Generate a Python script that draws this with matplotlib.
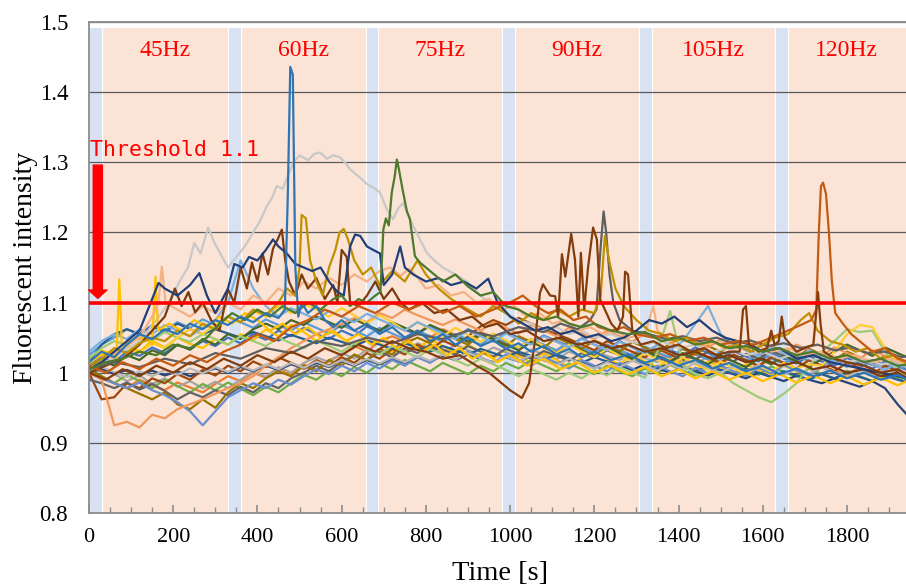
import matplotlib
matplotlib.use("Agg")
import matplotlib.pyplot as plt
from matplotlib.ticker import MultipleLocator

# ---- data -----------------------------------------------------------------
t_grid = list(range(0, 1951, 30))          # sampling of the bulk traces [s]

trace_01 = [1.010, 1.022, 1.015, 1.030, 1.024, 1.036, 1.028, 1.040, 1.033, 1.045,
            1.038, 1.050, 1.042, 1.055, 1.047, 1.060, 1.052, 1.064, 1.055, 1.048,
            1.060, 1.052, 1.066, 1.058, 1.070, 1.061, 1.055, 1.067, 1.058, 1.050,
            1.062, 1.054, 1.046, 1.058, 1.050, 1.042, 1.053, 1.045, 1.038, 1.049,
            1.040, 1.033, 1.045, 1.036, 1.028, 1.040, 1.032, 1.025, 1.036, 1.028,
            1.020, 1.031, 1.023, 1.016, 1.028, 1.020, 1.013, 1.024, 1.016, 1.010,
            1.021, 1.013, 1.006, 1.016, 1.009, 1.002]
trace_02 = [1.000, 0.992, 0.985, 0.978, 0.990, 0.982, 0.975, 0.986, 0.979, 0.972,
            0.984, 0.995, 0.988, 1.000, 0.993, 1.006, 0.998, 1.012, 1.004, 1.018,
            1.025, 1.038, 1.030, 1.045, 1.052, 1.044, 1.058, 1.050, 1.062, 1.054,
            1.046, 1.058, 1.050, 1.042, 1.036, 1.047, 1.039, 1.031, 1.043, 1.035,
            1.028, 1.040, 1.032, 1.024, 1.036, 1.028, 1.021, 1.015, 1.027, 1.019,
            1.012, 1.024, 1.016, 1.009, 1.020, 1.013, 1.006, 1.018, 1.010, 1.003,
            0.996, 1.008, 1.000, 0.993, 1.004, 0.997]
trace_03 = [0.995, 1.005, 0.998, 0.988, 0.996, 0.984, 0.992, 0.980, 0.988, 0.978,
            0.987, 0.978, 0.990, 1.002, 0.994, 1.008, 1.000, 1.014, 1.022, 1.015,
            1.028, 1.020, 1.033, 1.026, 1.038, 1.030, 1.042, 1.035, 1.028, 1.040,
            1.032, 1.025, 1.036, 1.029, 1.022, 1.033, 1.026, 1.019, 1.030, 1.023,
            1.030, 1.024, 1.018, 1.028, 1.021, 1.015, 1.026, 1.019, 1.012, 1.023,
            1.016, 1.025, 1.018, 1.028, 1.021, 1.014, 1.024, 1.017, 1.010, 1.020,
            1.013, 1.022, 1.015, 1.008, 1.016, 1.009]
trace_04 = [1.020, 1.032, 1.025, 1.040, 1.030, 1.046, 1.036, 1.050, 1.041, 1.035,
            1.048, 1.040, 1.055, 1.046, 1.062, 1.052, 1.068, 1.058, 1.045, 1.060,
            1.050, 1.038, 1.052, 1.042, 1.030, 1.044, 1.034, 1.048, 1.038, 1.028,
            1.040, 1.030, 1.020, 1.034, 1.024, 1.014, 1.028, 1.018, 1.008, 1.022,
            1.030, 1.020, 1.012, 1.026, 1.016, 1.008, 1.020, 1.011, 1.004, 1.016,
            1.008, 1.000, 1.012, 1.004, 0.998, 1.010, 1.002, 0.996, 1.008, 1.000,
            0.994, 1.006, 0.998, 0.992, 1.002, 0.995]
trace_05 = [1.025, 1.040, 1.050, 1.062, 1.055, 1.068, 1.060, 1.072, 1.064, 1.076,
            1.068, 1.080, 1.072, 1.064, 1.076, 1.068, 1.060, 1.072, 1.064, 1.056,
            1.068, 1.060, 1.052, 1.064, 1.056, 1.048, 1.060, 1.052, 1.044, 1.055,
            1.047, 1.040, 1.052, 1.044, 1.036, 1.048, 1.040, 1.032, 1.044, 1.036,
            1.028, 1.040, 1.032, 1.025, 1.037, 1.029, 1.022, 1.034, 1.026, 1.019,
            1.030, 1.023, 1.016, 1.027, 1.020, 1.013, 1.024, 1.017, 1.010, 1.021,
            1.014, 1.007, 1.018, 1.011, 1.004, 1.012]
trace_06 = [1.005, 0.995, 0.985, 0.997, 0.988, 0.978, 0.990, 0.981, 0.972, 0.984,
            0.975, 0.986, 0.977, 0.968, 0.980, 0.972, 0.985, 0.997, 0.990, 1.003,
            0.995, 1.008, 1.000, 1.013, 1.005, 1.018, 1.010, 1.002, 1.014, 1.006,
            0.998, 1.010, 1.002, 1.014, 1.006, 1.018, 1.010, 1.002, 1.013, 1.005,
            0.998, 1.010, 1.002, 0.995, 1.006, 0.999, 1.011, 1.003, 0.996, 1.008,
            1.000, 1.012, 1.004, 0.997, 1.009, 1.001, 0.994, 1.006, 0.998, 0.991,
            1.003, 0.995, 0.988, 1.000, 0.992, 0.985]
trace_07 = [1.000, 1.006, 0.998, 1.004, 0.997, 1.003, 0.996, 1.002, 0.995, 1.001,
            1.006, 1.000, 1.008, 1.002, 1.010, 1.004, 1.012, 1.006, 1.014, 1.008,
            1.016, 1.010, 1.018, 1.012, 1.020, 1.014, 1.022, 1.016, 1.024, 1.018,
            1.026, 1.020, 1.015, 1.022, 1.016, 1.024, 1.018, 1.012, 1.020, 1.014,
            1.008, 1.016, 1.010, 1.004, 1.012, 1.006, 1.000, 1.008, 1.002, 0.996,
            1.004, 0.998, 0.992, 1.000, 0.994, 0.988, 0.996, 0.990, 0.985, 0.992,
            0.986, 0.980, 0.988, 0.978, 0.955, 0.935]
trace_08 = [1.000, 0.962, 0.965, 0.985, 0.978, 0.992, 0.985, 0.998, 0.990, 1.004,
            0.996, 1.010, 1.002, 1.016, 1.008, 1.022, 1.014, 1.006, 1.018, 1.010,
            1.022, 1.014, 1.028, 1.020, 1.034, 1.026, 1.040, 1.032, 1.046, 1.038,
            1.052, 1.066, 1.075, 1.068, 1.078, 1.070, 1.062, 1.055, 1.048, 1.040,
            1.032, 1.045, 1.037, 1.030, 1.022, 1.034, 1.026, 1.018, 1.030, 1.022,
            1.014, 1.026, 1.018, 1.010, 1.022, 1.014, 1.006, 1.018, 1.010, 1.002,
            1.014, 1.006, 0.998, 1.010, 1.002, 0.995]
trace_09 = [0.990, 0.985, 0.978, 0.986, 0.976, 0.984, 0.974, 0.962, 0.972, 0.965,
            0.975, 0.968, 0.980, 0.972, 0.985, 0.978, 0.992, 1.000, 1.010, 1.002,
            1.015, 1.025, 1.018, 1.030, 1.022, 1.035, 1.028, 1.040, 1.033, 1.026,
            1.038, 1.030, 1.023, 1.034, 1.027, 1.020, 1.031, 1.024, 1.017, 1.028,
            1.021, 1.032, 1.025, 1.018, 1.029, 1.022, 1.015, 1.026, 1.019, 1.030,
            1.023, 1.016, 1.027, 1.020, 1.031, 1.024, 1.017, 1.028, 1.021, 1.014,
            1.025, 1.018, 1.011, 1.022, 1.015, 1.008]
trace_10 = [1.005, 0.995, 0.985, 0.978, 0.970, 0.962, 0.972, 0.955, 0.948, 0.962,
            0.950, 0.972, 0.985, 0.978, 0.992, 1.002, 0.995, 1.010, 1.002, 1.018,
            1.010, 1.026, 1.018, 1.034, 1.026, 1.042, 1.050, 1.042, 1.056, 1.048,
            1.040, 1.054, 1.046, 1.038, 1.052, 1.044, 1.036, 1.050, 1.042, 1.034,
            1.046, 1.038, 1.030, 1.044, 1.036, 1.028, 1.042, 1.034, 1.026, 1.038,
            1.030, 1.042, 1.034, 1.026, 1.038, 1.030, 1.022, 1.034, 1.026, 1.018,
            1.030, 1.022, 1.014, 1.024, 1.016, 1.010]
trace_11 = [1.015, 1.040, 1.055, 1.062, 1.055, 1.066, 1.058, 1.070, 1.062, 1.055,
            1.062, 1.056, 1.050, 1.058, 1.052, 1.046, 1.054, 1.048, 1.042, 1.050,
            1.044, 1.038, 1.046, 1.040, 1.034, 1.042, 1.036, 1.030, 1.038, 1.032,
            1.026, 1.034, 1.028, 1.022, 1.030, 1.024, 1.018, 1.026, 1.020, 1.014,
            1.022, 1.016, 1.010, 1.018, 1.012, 1.006, 1.014, 1.008, 1.002, 1.010,
            1.004, 0.998, 1.006, 1.000, 0.994, 1.002, 0.996, 0.990, 0.998, 0.992,
            1.000, 0.994, 0.988, 0.996, 0.990, 0.985]
trace_12 = [1.010, 1.018, 1.010, 1.025, 1.018, 1.032, 1.025, 1.040, 1.033, 1.048,
            1.040, 1.055, 1.048, 1.062, 1.070, 1.062, 1.075, 1.068, 1.080, 1.072,
            1.064, 1.076, 1.068, 1.060, 1.072, 1.064, 1.056, 1.068, 1.060, 1.052,
            1.044, 1.056, 1.048, 1.040, 1.032, 1.044, 1.036, 1.028, 1.040, 1.032,
            1.024, 1.036, 1.028, 1.020, 1.032, 1.024, 1.016, 1.028, 1.020, 1.012,
            1.024, 1.016, 1.008, 1.020, 1.012, 1.024, 1.016, 1.008, 1.020, 1.030,
            1.040, 1.032, 1.024, 1.036, 1.028, 1.020]
trace_13 = [1.000, 0.992, 0.985, 0.978, 0.986, 0.975, 0.968, 0.958, 0.945, 0.925,
            0.945, 0.965, 0.975, 0.985, 0.978, 0.990, 0.983, 0.995, 1.005, 0.998,
            1.010, 1.002, 1.014, 1.006, 1.018, 1.010, 1.022, 1.014, 1.026, 1.018,
            1.030, 1.022, 1.014, 1.026, 1.018, 1.010, 1.022, 1.014, 1.006, 1.018,
            1.010, 1.002, 1.014, 1.006, 0.998, 1.010, 1.002, 0.995, 1.007, 0.999,
            1.010, 1.002, 0.995, 1.007, 0.999, 1.011, 1.003, 0.996, 1.008, 1.000,
            0.993, 1.005, 0.997, 0.990, 1.000, 0.993]
trace_14 = [1.000, 0.990, 0.925, 0.930, 0.922, 0.940, 0.935, 0.948, 0.955, 0.962,
            0.970, 0.978, 0.985, 0.995, 1.010, 1.022, 1.035, 1.045, 1.055, 1.062,
            1.070, 1.078, 1.072, 1.085, 1.078, 1.090, 1.082, 1.075, 1.068, 1.076,
            1.068, 1.060, 1.072, 1.064, 1.056, 1.068, 1.060, 1.052, 1.064, 1.056,
            1.048, 1.060, 1.052, 1.044, 1.056, 1.048, 1.040, 1.052, 1.044, 1.036,
            1.048, 1.040, 1.032, 1.044, 1.036, 1.028, 1.040, 1.032, 1.024, 1.036,
            1.028, 1.020, 1.032, 1.024, 1.016, 1.010]
trace_15 = [1.020, 1.035, 1.045, 1.040, 1.052, 1.046, 1.058, 1.050, 1.044, 1.055,
            1.048, 1.040, 1.052, 1.045, 1.038, 1.050, 1.042, 1.035, 1.046, 1.038,
            1.030, 1.042, 1.034, 1.026, 1.038, 1.030, 1.022, 1.034, 1.026, 1.018,
            1.010, 1.020, 1.012, 1.004, 0.995, 1.005, 0.998, 0.990, 1.000, 0.992,
            1.004, 0.996, 1.008, 1.000, 0.993, 1.030, 1.088, 1.010, 0.998, 0.992,
            1.000, 0.985, 0.975, 0.965, 0.958, 0.970, 0.985, 1.010, 1.030, 1.045,
            1.062, 1.058, 1.060, 1.030, 1.005, 0.990]
trace_16 = [1.015, 1.028, 1.020, 1.035, 1.028, 1.042, 1.035, 1.050, 1.062, 1.055,
            1.068, 1.080, 1.072, 1.088, 1.080, 1.095, 1.085, 1.098, 1.090, 1.080,
            1.092, 1.082, 1.070, 1.082, 1.072, 1.060, 1.072, 1.062, 1.052, 1.064,
            1.054, 1.044, 1.056, 1.046, 1.036, 1.048, 1.038, 1.028, 1.040, 1.030,
            1.022, 1.034, 1.024, 1.016, 1.028, 1.018, 1.010, 1.022, 1.012, 1.004,
            1.016, 1.006, 0.998, 1.010, 1.002, 1.014, 1.006, 1.012, 1.010, 1.030,
            1.055, 1.068, 1.065, 1.035, 1.015, 1.005]
trace_17 = [1.000, 1.008, 1.001, 0.994, 1.002, 0.995, 1.004, 0.997, 1.006, 0.999,
            1.008, 1.001, 1.010, 1.003, 1.012, 1.005, 1.014, 1.007, 1.016, 1.009,
            1.018, 1.011, 1.020, 1.013, 1.022, 1.015, 1.024, 1.017, 1.026, 1.019,
            1.028, 1.021, 1.014, 1.023, 1.016, 1.025, 1.018, 1.011, 1.020, 1.013,
            1.006, 1.015, 1.008, 1.017, 1.010, 1.003, 1.012, 1.005, 1.014, 1.007,
            1.000, 1.009, 1.002, 1.011, 1.004, 0.997, 1.006, 0.999, 1.008, 1.001,
            0.994, 1.003, 0.996, 1.005, 0.998, 0.991]
trace_18 = [1.030, 1.045, 1.055, 1.048, 1.062, 1.055, 1.068, 1.060, 1.052, 1.064,
            1.075, 1.100, 1.160, 1.120, 1.095, 1.080, 1.092, 1.084, 1.076, 1.088,
            1.080, 1.072, 1.084, 1.076, 1.068, 1.060, 1.072, 1.064, 1.056, 1.048,
            1.060, 1.052, 1.044, 1.056, 1.048, 1.040, 1.052, 1.044, 1.036, 1.048,
            1.040, 1.032, 1.044, 1.036, 1.028, 1.040, 1.032, 1.045, 1.070, 1.095,
            1.055, 1.040, 1.032, 1.024, 1.036, 1.028, 1.020, 1.032, 1.024, 1.016,
            1.008, 1.020, 1.012, 1.004, 1.014, 1.006]

# traces with narrow peaks, stored as (time [s], intensity)
spike_blue = [(0, 1.015), (30, 1.030), (60, 1.022), (90, 1.040), (120, 1.055), (150, 1.048),
              (180, 1.062), (210, 1.055), (240, 1.070), (270, 1.062), (300, 1.075), (330, 1.068),
              (360, 1.080), (390, 1.072), (420, 1.085), (450, 1.078), (465, 1.090), (472, 1.250),
              (478, 1.436), (484, 1.425), (490, 1.150), (497, 1.080), (505, 1.100), (520, 1.085),
              (540, 1.095), (560, 1.075), (580, 1.065), (600, 1.075), (630, 1.060), (660, 1.070),
              (690, 1.055), (720, 1.065), (750, 1.050), (780, 1.060), (810, 1.045), (840, 1.055),
              (870, 1.040), (900, 1.050), (930, 1.038), (960, 1.046), (990, 1.034), (1020, 1.042),
              (1050, 1.030), (1080, 1.038), (1110, 1.026), (1140, 1.034), (1170, 1.022),
              (1200, 1.030), (1240, 1.018), (1280, 1.026), (1320, 1.014), (1360, 1.022),
              (1400, 1.010), (1440, 1.018), (1480, 1.006), (1520, 1.014), (1560, 1.002),
              (1600, 1.010), (1640, 0.998), (1680, 1.006), (1720, 0.995), (1760, 1.003),
              (1800, 0.992), (1840, 1.000), (1880, 0.990), (1920, 0.997), (1950, 0.988)]
plateau_gray = [(0, 1.000), (40, 1.015), (80, 1.030), (120, 1.045), (160, 1.075), (190, 1.100),
                (215, 1.130), (235, 1.150), (250, 1.185), (265, 1.170), (283, 1.207), (298, 1.185),
                (311, 1.171), (330, 1.150), (350, 1.165), (370, 1.180), (390, 1.200), (405, 1.215),
                (422, 1.237), (435, 1.250), (446, 1.266), (460, 1.262), (475, 1.285), (486, 1.300),
                (500, 1.310), (520, 1.303), (535, 1.312), (549, 1.314), (565, 1.305), (580, 1.310),
                (596, 1.307), (610, 1.298), (620, 1.290), (640, 1.280), (660, 1.269), (680, 1.262),
                (691, 1.257), (707, 1.233), (722, 1.219), (735, 1.235), (746, 1.242), (758, 1.225),
                (770, 1.209), (786, 1.190), (802, 1.171), (820, 1.160), (840, 1.150), (870, 1.140),
                (897, 1.130), (930, 1.110), (960, 1.095), (990, 1.085), (1020, 1.075), (1050, 1.070),
                (1080, 1.060), (1110, 1.065), (1140, 1.055), (1170, 1.060), (1200, 1.050),
                (1240, 1.055), (1280, 1.045), (1320, 1.040), (1360, 1.045), (1400, 1.035),
                (1440, 1.040), (1480, 1.030), (1520, 1.035), (1560, 1.025), (1600, 1.030),
                (1640, 1.020), (1680, 1.028), (1720, 1.018), (1760, 1.025), (1800, 1.015),
                (1840, 1.020), (1880, 1.012), (1920, 1.015), (1950, 1.008)]
spike_green = [(0, 1.005), (40, 1.015), (80, 1.020), (120, 1.030), (160, 1.025), (200, 1.040),
               (240, 1.035), (280, 1.050), (310, 1.070), (340, 1.085), (370, 1.075), (400, 1.090),
               (430, 1.080), (460, 1.095), (490, 1.085), (520, 1.100), (550, 1.090), (580, 1.105),
               (600, 1.110), (620, 1.095), (640, 1.105), (660, 1.100), (680, 1.110), (692, 1.115),
               (699, 1.204), (705, 1.220), (712, 1.210), (719, 1.257), (726, 1.280), (731, 1.304),
               (736, 1.290), (745, 1.260), (755, 1.230), (762, 1.219), (774, 1.166), (786, 1.157),
               (810, 1.145), (840, 1.130), (870, 1.140), (900, 1.123), (930, 1.110), (960, 1.115),
               (990, 1.095), (1020, 1.090), (1050, 1.080), (1080, 1.075), (1110, 1.080),
               (1140, 1.070), (1170, 1.065), (1200, 1.070), (1240, 1.060), (1280, 1.055),
               (1320, 1.058), (1360, 1.045), (1400, 1.050), (1440, 1.040), (1480, 1.045),
               (1520, 1.035), (1560, 1.038), (1600, 1.030), (1640, 1.035), (1680, 1.025),
               (1720, 1.030), (1760, 1.020), (1800, 1.025), (1840, 1.015), (1880, 1.020),
               (1920, 1.010), (1950, 1.012)]
spike_brown = [(0, 1.000), (40, 0.990), (80, 1.005), (120, 0.995), (160, 1.010), (200, 1.000),
               (240, 1.015), (280, 1.005), (320, 1.020), (360, 1.010), (400, 1.025), (440, 1.015),
               (480, 1.030), (520, 1.020), (560, 1.035), (600, 1.025), (640, 1.040), (680, 1.030),
               (720, 1.045), (760, 1.035), (800, 1.030), (840, 1.020), (880, 1.025), (920, 1.010),
               (950, 1.000), (980, 0.985), (1000, 0.975), (1028, 0.964), (1045, 0.985),
               (1060, 1.050), (1071, 1.114), (1078, 1.126), (1095, 1.110), (1107, 1.109),
               (1114, 1.080), (1123, 1.169), (1131, 1.137), (1145, 1.198), (1154, 1.161),
               (1162, 1.080), (1168, 1.171), (1176, 1.090), (1185, 1.150), (1197, 1.207),
               (1206, 1.190), (1214, 1.104), (1225, 1.090), (1240, 1.070), (1255, 1.060),
               (1268, 1.080), (1273, 1.144), (1280, 1.140), (1290, 1.060), (1310, 1.040),
               (1340, 1.045), (1370, 1.035), (1400, 1.040), (1430, 1.030), (1460, 1.035),
               (1490, 1.025), (1520, 1.030), (1545, 1.030), (1553, 1.090), (1560, 1.095),
               (1567, 1.040), (1590, 1.030), (1610, 1.035), (1620, 1.060), (1628, 1.040),
               (1638, 1.045), (1645, 1.080), (1652, 1.050), (1680, 1.030), (1700, 1.035),
               (1720, 1.040), (1726, 1.080), (1731, 1.115), (1737, 1.070), (1745, 1.030),
               (1770, 1.020), (1800, 1.015), (1840, 1.010), (1880, 1.000), (1920, 1.005),
               (1950, 0.995)]
spike_orange = [(0, 1.010), (40, 1.000), (80, 1.015), (120, 1.005), (160, 1.020), (200, 1.010),
                (240, 1.025), (280, 1.015), (320, 1.030), (360, 1.040), (400, 1.055), (440, 1.045),
                (480, 1.065), (520, 1.075), (560, 1.090), (600, 1.080), (640, 1.095), (680, 1.085),
                (720, 1.100), (760, 1.090), (800, 1.100), (840, 1.085), (880, 1.095), (920, 1.080),
                (960, 1.090), (1000, 1.100), (1030, 1.110), (1060, 1.095), (1090, 1.085),
                (1120, 1.090), (1150, 1.075), (1180, 1.080), (1210, 1.065), (1240, 1.060),
                (1270, 1.065), (1300, 1.055), (1340, 1.050), (1380, 1.055), (1420, 1.045),
                (1460, 1.050), (1500, 1.040), (1540, 1.045), (1580, 1.040), (1620, 1.050),
                (1660, 1.060), (1690, 1.068), (1715, 1.075), (1727, 1.090), (1733, 1.200),
                (1738, 1.266), (1743, 1.271), (1750, 1.255), (1757, 1.200), (1764, 1.130),
                (1772, 1.085), (1790, 1.070), (1810, 1.055), (1830, 1.045), (1860, 1.030),
                (1890, 1.035), (1920, 1.020), (1950, 1.015)]
spike_gold = [(0, 1.010), (30, 1.020), (60, 1.035), (90, 1.028), (120, 1.042), (150, 1.050),
              (180, 1.045), (210, 1.060), (240, 1.052), (270, 1.070), (300, 1.062), (330, 1.080),
              (360, 1.072), (390, 1.090), (420, 1.082), (450, 1.100), (470, 1.120), (490, 1.110),
              (500, 1.150), (505, 1.225), (515, 1.220), (525, 1.160), (540, 1.130), (555, 1.110),
              (570, 1.150), (585, 1.175), (595, 1.200), (605, 1.205), (615, 1.190), (630, 1.160),
              (650, 1.140), (670, 1.150), (690, 1.125), (720, 1.145), (750, 1.130), (780, 1.160),
              (800, 1.140), (830, 1.120), (860, 1.105), (900, 1.090), (930, 1.080), (960, 1.095),
              (990, 1.085), (1020, 1.070), (1050, 1.085), (1080, 1.075), (1110, 1.090),
              (1140, 1.080), (1170, 1.090), (1200, 1.085), (1215, 1.110), (1225, 1.195),
              (1235, 1.160), (1250, 1.120), (1270, 1.095), (1300, 1.075), (1330, 1.060),
              (1360, 1.055), (1390, 1.045), (1420, 1.050), (1450, 1.040), (1480, 1.045),
              (1510, 1.035), (1540, 1.040), (1570, 1.030), (1600, 1.040), (1630, 1.050),
              (1660, 1.055), (1690, 1.075), (1710, 1.085), (1730, 1.060), (1760, 1.045),
              (1790, 1.040), (1820, 1.030), (1850, 1.035), (1880, 1.020), (1910, 1.025),
              (1950, 1.010)]
high_navy = [(0, 1.005), (30, 1.015), (60, 1.030), (90, 1.045), (120, 1.060), (150, 1.105),
             (165, 1.128), (180, 1.120), (210, 1.110), (240, 1.125), (262, 1.142), (280, 1.110),
             (300, 1.085), (330, 1.120), (345, 1.155), (365, 1.150), (380, 1.165), (400, 1.160),
             (420, 1.175), (437, 1.190), (450, 1.180), (470, 1.170), (490, 1.155), (510, 1.150),
             (530, 1.145), (550, 1.150), (570, 1.130), (590, 1.115), (605, 1.110), (620, 1.180),
             (632, 1.197), (644, 1.195), (660, 1.180), (675, 1.175), (691, 1.170), (700, 1.125),
             (720, 1.140), (739, 1.180), (750, 1.150), (770, 1.140), (800, 1.130), (830, 1.135),
             (860, 1.125), (890, 1.130), (920, 1.120), (948, 1.134), (970, 1.100), (1000, 1.080),
             (1030, 1.070), (1060, 1.060), (1090, 1.065), (1120, 1.055), (1150, 1.060),
             (1180, 1.050), (1210, 1.055), (1240, 1.045), (1270, 1.050), (1300, 1.060),
             (1330, 1.075), (1360, 1.070), (1390, 1.080), (1420, 1.065), (1450, 1.075),
             (1480, 1.060), (1510, 1.050), (1540, 1.045), (1570, 1.040), (1600, 1.030),
             (1640, 1.035), (1680, 1.020), (1720, 1.025), (1760, 1.015), (1800, 1.010),
             (1840, 1.005), (1880, 1.000), (1920, 0.995), (1950, 0.990)]
noisy_brown = [(0, 1.000), (40, 1.010), (80, 1.020), (120, 1.040), (150, 1.060), (180, 1.080),
               (204, 1.120), (220, 1.095), (236, 1.115), (252, 1.086), (270, 1.100), (290, 1.075),
               (310, 1.060), (330, 1.119), (345, 1.100), (360, 1.150), (375, 1.120), (387, 1.157),
               (400, 1.130), (412, 1.170), (425, 1.140), (437, 1.177), (448, 1.190), (458, 1.204),
               (466, 1.160), (475, 1.130), (490, 1.110), (505, 1.140), (520, 1.120), (540, 1.135),
               (560, 1.105), (580, 1.125), (590, 1.100), (600, 1.175), (612, 1.165), (620, 1.100),
               (640, 1.095), (660, 1.110), (680, 1.130), (700, 1.105), (720, 1.120), (740, 1.100),
               (760, 1.090), (790, 1.100), (820, 1.085), (850, 1.090), (880, 1.075), (910, 1.080),
               (940, 1.065), (970, 1.070), (1000, 1.055), (1040, 1.060), (1080, 1.045),
               (1120, 1.050), (1160, 1.040), (1200, 1.045), (1240, 1.035), (1280, 1.040),
               (1320, 1.030), (1360, 1.035), (1400, 1.025), (1440, 1.030), (1480, 1.020),
               (1520, 1.025), (1560, 1.015), (1600, 1.020), (1640, 1.010), (1680, 1.015),
               (1720, 1.005), (1760, 1.010), (1800, 1.000), (1840, 1.005), (1880, 0.995),
               (1920, 1.000), (1950, 0.990)]
spike_darkgray = [(0, 1.005), (60, 1.015), (120, 1.008), (180, 1.020), (240, 1.012), (300, 1.028),
                  (360, 1.020), (420, 1.035), (480, 1.028), (540, 1.045), (600, 1.038), (660, 1.050),
                  (720, 1.042), (780, 1.055), (840, 1.048), (900, 1.060), (960, 1.052), (1020, 1.065),
                  (1080, 1.058), (1120, 1.070), (1160, 1.062), (1190, 1.075), (1205, 1.090),
                  (1215, 1.180), (1222, 1.230), (1228, 1.200), (1236, 1.140), (1245, 1.100),
                  (1260, 1.075), (1290, 1.060), (1330, 1.055), (1370, 1.048), (1410, 1.052),
                  (1450, 1.045), (1490, 1.050), (1530, 1.042), (1570, 1.046), (1610, 1.038),
                  (1650, 1.042), (1690, 1.035), (1730, 1.040), (1770, 1.032), (1810, 1.036),
                  (1850, 1.028), (1890, 1.030), (1930, 1.022), (1950, 1.025)]
spike_yellow = [(0, 1.015), (30, 1.025), (55, 1.030), (65, 1.020), (72, 1.133), (78, 1.040),
                (100, 1.045), (130, 1.050), (150, 1.040), (158, 1.137), (164, 1.060), (190, 1.070),
                (220, 1.060), (250, 1.075), (280, 1.065), (310, 1.080), (340, 1.070), (370, 1.085),
                (400, 1.075), (430, 1.060), (460, 1.070), (490, 1.055), (520, 1.065), (550, 1.050),
                (580, 1.060), (610, 1.045), (640, 1.055), (670, 1.040), (700, 1.050), (730, 1.035),
                (760, 1.045), (790, 1.030), (820, 1.040), (850, 1.025), (880, 1.035), (910, 1.020),
                (940, 1.030), (970, 1.015), (1000, 1.025), (1040, 1.010), (1080, 1.020),
                (1120, 1.005), (1160, 1.015), (1200, 1.000), (1240, 1.010), (1280, 0.998),
                (1320, 1.008), (1360, 0.995), (1400, 1.005), (1440, 0.992), (1480, 1.002),
                (1520, 0.990), (1560, 1.000), (1600, 0.988), (1640, 0.998), (1680, 0.986),
                (1720, 0.996), (1760, 0.985), (1800, 0.995), (1840, 0.983), (1880, 0.993),
                (1920, 0.982), (1950, 0.990)]
high_peach = [(0, 1.005), (40, 1.020), (80, 1.035), (120, 1.050), (150, 1.080), (165, 1.100),
              (173, 1.151), (182, 1.100), (210, 1.090), (240, 1.080), (270, 1.095), (300, 1.085),
              (330, 1.100), (360, 1.090), (390, 1.110), (420, 1.100), (450, 1.120), (480, 1.110),
              (510, 1.130), (540, 1.120), (570, 1.135), (600, 1.125), (630, 1.140), (660, 1.130),
              (690, 1.145), (715, 1.150), (740, 1.138), (760, 1.148), (779, 1.137), (800, 1.120),
              (830, 1.125), (860, 1.110), (890, 1.115), (920, 1.100), (950, 1.105), (980, 1.090),
              (1010, 1.095), (1040, 1.080), (1070, 1.085), (1100, 1.070), (1130, 1.075),
              (1160, 1.060), (1190, 1.065), (1220, 1.055), (1250, 1.060), (1280, 1.050),
              (1320, 1.055), (1340, 1.095), (1350, 1.060), (1380, 1.045), (1420, 1.050),
              (1460, 1.040), (1500, 1.045), (1540, 1.035), (1580, 1.040), (1620, 1.030),
              (1660, 1.035), (1700, 1.025), (1740, 1.030), (1780, 1.020), (1820, 1.025),
              (1860, 1.015), (1900, 1.020), (1950, 1.010)]

# stimulation periods
pause_start = [0, 330, 657, 981, 1306, 1629]
pause_len = 30
freq_labels = ["45Hz", "60Hz", "75Hz", "90Hz", "105Hz", "120Hz"]
t_end = 1940
threshold = 1.1
y_ticks = [0.8, 0.9, 1.0, 1.1, 1.2, 1.3, 1.4, 1.5]
y_ticklabels = ["0.8", "0.9", "1", "1.1", "1.2", "1.3", "1.4", "1.5"]

bulk = [(trace_01, "#4472C4"), (trace_02, "#ED7D31"), (trace_03, "#A5A5A5"),
        (trace_04, "#FFC000"), (trace_05, "#5B9BD5"), (trace_06, "#70AD47"),
        (trace_07, "#264478"), (trace_08, "#9E480E"), (trace_09, "#636363"),
        (trace_10, "#997300"), (trace_11, "#255E91"), (trace_12, "#43682B"),
        (trace_13, "#698ED0"), (trace_14, "#F1975A"), (trace_15, "#9DCB7A"),
        (trace_16, "#FFCD33"), (trace_17, "#B7B7B7"), (trace_18, "#7CAFDD")]
featured = [(plateau_gray, "#C8C8C8"), (spike_yellow, "#FFC000"), (high_peach, "#F4B183"),
            (noisy_brown, "#7B3A10"), (spike_darkgray, "#5F5F5F"), (spike_gold, "#BF9000"),
            (high_navy, "#203F78"), (spike_orange, "#C55A11"), (spike_brown, "#843C0C"),
            (spike_green, "#4E7A2E"), (spike_blue, "#2E75B6")]

# ---- figure ---------------------------------------------------------------
SERIF = "Liberation Serif"
fig = plt.figure(figsize=(9.06, 5.85), dpi=100)
ax = fig.add_axes([0.0982, 0.1231, 0.9018, 0.8393])

band_top = 1.493
stim_start = [s + pause_len for s in pause_start]
stim_end = pause_start[1:] + [t_end + 20]
ax.bar(stim_start, band_top - 0.8, bottom=0.8,
       width=[e - s for s, e in zip(stim_start, stim_end)], align="edge",
       color="#FBE4D6", edgecolor="white", linewidth=0.8, zorder=0.5)
ax.bar(pause_start, band_top - 0.8, bottom=0.8, width=pause_len, align="edge",
       color="#D9E2F3", edgecolor="white", linewidth=0.8, zorder=0.5)
for s, e, lab in zip(stim_start, stim_end, freq_labels):
    ax.text((s + min(e, t_end)) / 2, 1.459, lab, color="red", fontsize=17,
            family=SERIF, ha="center", va="center", zorder=5)

for vals, col in bulk:
    ax.plot(t_grid, vals, color=col, lw=1.6, zorder=2)
for pts, col in featured:
    ax.plot([p[0] for p in pts], [p[1] for p in pts], color=col, lw=1.6, zorder=2.2)

ax.axhline(threshold, color="#FF0000", lw=2.6, zorder=3)
ax.text(2, 1.318, "Threshold 1.1", color="red", fontsize=15.5,
        family="DejaVu Sans Mono", ha="left", va="center", zorder=5)
ax.annotate("", xy=(21, 1.106), xytext=(21, 1.296),
            arrowprops=dict(arrowstyle="simple,head_length=0.5,head_width=1.1,tail_width=0.55",
                            color="red", shrinkA=0, shrinkB=0, mutation_scale=12), zorder=5)

ax.set_xlim(0, t_end)
ax.set_ylim(0.8, 1.5)
ax.set_yticks(y_ticks)
ax.set_yticklabels(y_ticklabels)
ax.yaxis.grid(True, color="#5A5A5A", lw=0.9)
ax.set_axisbelow("line")
ax.xaxis.set_major_locator(MultipleLocator(200))
ax.xaxis.set_minor_locator(MultipleLocator(50))
ax.tick_params(axis="y", length=0, pad=15, labelsize=16.5)
ax.tick_params(axis="x", which="major", direction="in", length=6, width=1.2,
               color="#8C8C8C", pad=11, labelsize=16)
ax.tick_params(axis="x", which="minor", direction="in", length=4, width=1.0, color="#8C8C8C")
for lab in ax.get_xticklabels() + ax.get_yticklabels():
    lab.set_family(SERIF)
for side in ("left", "top", "bottom"):
    ax.spines[side].set_color("#8C8C8C")
    ax.spines[side].set_linewidth(1.3)
ax.spines["right"].set_visible(False)

ax.set_xlabel("Time [s]", fontsize=20.5, family=SERIF)
ax.set_ylabel("Fluorescent intensity", fontsize=20, family=SERIF)
ax.xaxis.set_label_coords(0.503, -0.097)
ax.yaxis.set_label_coords(-0.062, 0.5)

fig.savefig("out.png", dpi=100)
